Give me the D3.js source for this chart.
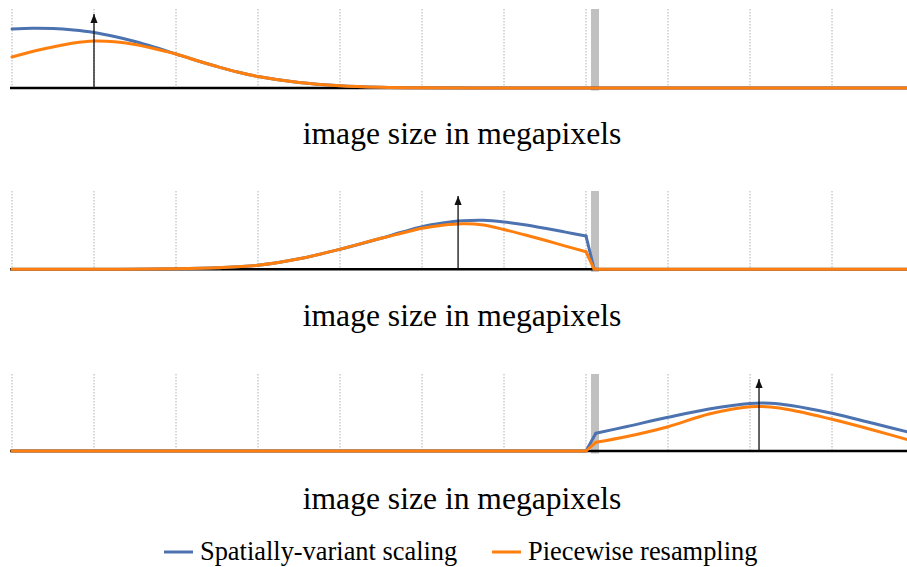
<!DOCTYPE html>
<html>
<head>
<meta charset="utf-8">
<script src="https://cdn.jsdelivr.net/npm/d3@7"></script>
<style>
  html, body { margin: 0; padding: 0; background: #fff; }
  svg { display: block; }
  .serif { font-family: "Liberation Serif", "Times New Roman", Times, serif; }
</style>
</head>
<body>
<svg id="chart" width="907" height="567"></svg>
<script>
// Gridline positions (megapixel bins) shared by all three panels
const gridTicks = [0, 1, 2, 3, 4, 5, 6, 7, 8, 9, 10, 11];
const splitAt = 7.11;            // limit marker (grey band)
const arrowAt = [1, 5.44, 9.11]; // target size per panel

// Panel 1
const p1X      = [0, 0.25, 0.5, 0.75, 1, 1.25, 1.5, 1.75, 2, 2.25, 2.5, 2.75, 3, 3.5, 4, 4.5, 5, 6, 7, 8, 9, 10, 11];
const p1Blue   = [59, 59.8, 59.5, 58, 55.5, 51.5, 46.5, 40.5, 34, 27.5, 21.5, 16, 11.5, 5.5, 2.3, 0.8, 0.2, 0, 0, 0, 0, 0, 0];
const p1Orange = [31, 36.5, 41, 45, 47, 46.3, 43.5, 39, 34, 27.5, 21.5, 16, 11.5, 5.5, 2.3, 0.8, 0.2, 0, 0, 0, 0, 0, 0];

// Panel 2
const p2X      = [0, 1, 2, 2.5, 3, 3.5, 4, 4.5, 4.75, 5, 5.25, 5.5, 5.75, 6, 6.25, 6.5, 6.75, 7, 7.1, 8, 9, 10, 11];
const p2Blue   = [0, 0, 0.5, 1.5, 4, 10.5, 20, 31, 37, 42.6, 46.2, 48.5, 49, 47.3, 44.5, 41, 37.2, 33.3, 0, 0, 0, 0, 0];
const p2Orange = [0, 0, 0.5, 1.5, 4, 10.5, 20, 31, 36, 41, 44, 45.5, 44.3, 39.8, 34.5, 29, 23.2, 17.6, 0, 0, 0, 0, 0];

// Panel 3
const p3X      = [0, 1, 2, 3, 4, 5, 6, 7, 7.12, 7.5, 8, 8.5, 9, 9.25, 9.5, 10, 10.5, 11];
const p3Blue   = [0, 0, 0, 0, 0, 0, 0, 0, 17.7, 24.5, 33.7, 42, 47.5, 47.7, 45.5, 37.7, 27.7, 17.5];
const p3Orange = [0, 0, 0, 0, 0, 0, 0, 0, 8.7, 14.5, 24.3, 37, 44.3, 44, 41, 31.7, 21, 9.5];

const seriesNames = ["Spatially-variant scaling", "Piecewise resampling"];
const colors = ["#4c72b0", "#ff7f0e"];
const xLabel = "image size in megapixels";

// smooth: x-range drawn as a smooth curve; outside it the points are joined by straight segments
const panels = [
  { xs: p1X, series: [p1Blue, p1Orange], arrow: arrowAt[0], smooth: [0, 11] },
  { xs: p2X, series: [p2Blue, p2Orange], arrow: arrowAt[1], smooth: [0, 7] },
  { xs: p3X, series: [p3Blue, p3Orange], arrow: arrowAt[2], smooth: [7.12, 11] }
];

const svg = d3.select("#chart");
const W = 907;
const x = d3.scaleLinear().domain([0, 11]).range([12, 914]);

const defs = svg.append("defs");
defs.append("clipPath").attr("id", "clip")
  .append("rect").attr("x", 0).attr("y", 0).attr("width", W).attr("height", 567);
defs.append("marker")
  .attr("id", "arrowHead")
  .attr("viewBox", "0 0 10 10")
  .attr("refX", 10).attr("refY", 5)
  .attr("markerWidth", 9).attr("markerHeight", 9)
  .attr("markerUnits", "userSpaceOnUse")
  .attr("orient", "auto")
  .append("path").attr("d", "M0,1 L10,5 L0,9 Z").attr("fill", "#111");

const panelTop = [9, 191, 374];
const panelAxis = [88, 269.3, 451];
const labelY = [143.5, 326, 508.5];

panels.forEach((p, i) => {
  const g = svg.append("g").attr("clip-path", "url(#clip)");
  const y = d3.scaleLinear().domain([0, 80]).range([panelAxis[i], panelAxis[i] - 80]);
  const top = panelTop[i];

  // dotted vertical gridlines
  g.selectAll("line.grid").data(gridTicks).join("line")
    .attr("class", "grid")
    .attr("x1", d => x(d)).attr("x2", d => x(d))
    .attr("y1", top).attr("y2", panelAxis[i])
    .attr("stroke", "#b0b0b0")
    .attr("stroke-width", 1)
    .attr("stroke-dasharray", "1.5,1.5");

  // grey limit band
  g.append("rect")
    .attr("x", x(splitAt) - 4).attr("width", 8)
    .attr("y", top).attr("height", panelAxis[i] - top + 2.5)
    .attr("fill", "#c0c0c0");

  // baseline axis
  g.append("line")
    .attr("x1", 10).attr("x2", W)
    .attr("y1", panelAxis[i]).attr("y2", panelAxis[i])
    .attr("stroke", "#000").attr("stroke-width", 2.5);

  const smoothLine = d3.line().x(d => x(d[0])).y(d => y(d[1]))
    .curve(d3.curveCatmullRom.alpha(0.5));
  const straightLine = d3.line().x(d => x(d[0])).y(d => y(d[1]));

  p.series.forEach((s, k) => {
    const pts = p.xs.map((xv, j) => [xv, s[j]]);
    const [a, b] = p.smooth;
    const parts = [
      { pts: pts.filter(d => d[0] <= a), gen: straightLine },
      { pts: pts.filter(d => d[0] >= a && d[0] <= b), gen: smoothLine },
      { pts: pts.filter(d => d[0] >= b), gen: straightLine }
    ];
    parts.filter(part => part.pts.length > 1).forEach(part => {
      g.append("path")
        .datum(part.pts)
        .attr("d", part.gen)
        .attr("fill", "none")
        .attr("stroke", colors[k])
        .attr("stroke-width", 3)
        .attr("stroke-linejoin", "round")
        .attr("stroke-linecap", "round");
    });
  });

  // target arrow
  g.append("line")
    .attr("x1", x(p.arrow)).attr("x2", x(p.arrow))
    .attr("y1", panelAxis[i]).attr("y2", top + 5)
    .attr("stroke", "#111").attr("stroke-width", 1.3)
    .attr("marker-end", "url(#arrowHead)");

  svg.append("text")
    .attr("class", "serif")
    .attr("x", 462).attr("y", labelY[i])
    .attr("text-anchor", "middle")
    .attr("font-size", 31.6)
    .attr("fill", "#000")
    .text(xLabel);
});

// legend
const legendItems = [
  { x: 164, name: seriesNames[0], color: colors[0] },
  { x: 492, name: seriesNames[1], color: colors[1] }
];
const lg = svg.append("g");
legendItems.forEach(it => {
  lg.append("line")
    .attr("x1", it.x).attr("x2", it.x + 29)
    .attr("y1", 552).attr("y2", 552)
    .attr("stroke", it.color).attr("stroke-width", 3);
  lg.append("text")
    .attr("class", "serif")
    .attr("x", it.x + 36).attr("y", 560)
    .attr("font-size", 26.4)
    .attr("fill", "#000")
    .text(it.name);
});
</script>
</body>
</html>
